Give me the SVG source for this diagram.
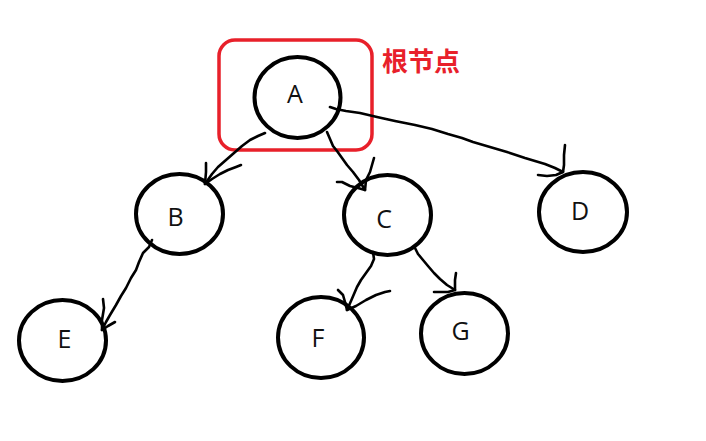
<svg xmlns="http://www.w3.org/2000/svg" width="706" height="441" viewBox="0 0 706 441">
<style>
.node ellipse{fill:none;stroke:#000;stroke-width:4}
.node text{font-family:"Open Sans","Noto Sans",sans-serif;font-size:25px;fill:#111;text-anchor:middle}
.conn path{fill:none;stroke:#000;stroke-width:2.6;stroke-linecap:round;stroke-linejoin:round}
.root rect{fill:none;stroke:#e8202a;stroke-width:3.5}
.root text{font-family:"Noto Sans CJK SC",sans-serif;font-weight:bold;font-size:26px;fill:#e8202a}
</style>
<rect width="706" height="441" fill="#fff"/>
<g id="root-label" class="root">
<rect x="219" y="40" width="153" height="110" rx="16"/>
<text x="382" y="71">根节点</text>
</g>
<g id="connectors" class="conn">
<path d="M265,133 L258,136 L250,140 L242,146 L234,153 L226,160 L218,167 L212,174 L205,184"/>
<path d="M206,163 L206,172 L205,184 L212,179 L220,174 L228,170 L236,167 L241,165"/>
<path d="M327,132 L330,139 L333,146 L337,151 L342,158 L347,165 L353,172 L359,180 L365,190"/>
<path d="M374,158 L372,165 L370,172 L366,180 L365,190 L358,188 L350,186 L342,182 L337,182"/>
<path d="M330,107 L336,109 L346,111 L360,113 L377,117 L395,121 L415,125 L432,129 L448,134 L462,138 L473,142 L490,147 L507,152 L525,158 L545,164 L555,168 L563,172"/>
<path d="M565,145 L564,155 L564,165 L563,172 L556,175 L547,176 L538,175"/>
<path d="M152,240 L149,247 L143,253 L139,262 L136,270 L131,278 L126,288 L121,296 L116,305 L110,315 L106,322 L102,330"/>
<path d="M103,299 L104,308 L102,320 L102,330 L108,326 L115,322"/>
<path d="M373,252 L374,259 L371,266 L366,273 L361,280 L357,287 L354,294 L351,301 L347,310"/>
<path d="M338,290 L343,295 L345,302 L347,310 L356,306 L366,300 L376,295 L385,292 L390,291"/>
<path d="M415,248 L418,254 L423,260 L428,266 L434,273 L440,279 L447,285 L455,290"/>
<path d="M456,273 L455,280 L455,290 L448,292 L440,292 L434,292"/>
</g>
<g id="node-A" class="node"><ellipse cx="297.5" cy="97.5" rx="43" ry="40.5"/><text x="295" y="103">A</text></g>
<g id="node-B" class="node"><ellipse cx="179.5" cy="214" rx="43.5" ry="40"/><text x="175.5" y="226">B</text></g>
<g id="node-C" class="node"><ellipse cx="387.5" cy="215" rx="43.5" ry="40"/><text x="384" y="228">C</text></g>
<g id="node-D" class="node"><ellipse cx="583" cy="212" rx="44" ry="40"/><text x="580" y="220">D</text></g>
<g id="node-E" class="node"><ellipse cx="62.5" cy="340.5" rx="43.5" ry="40.5"/><text x="64.5" y="348">E</text></g>
<g id="node-F" class="node"><ellipse cx="321" cy="337.5" rx="43" ry="40.5"/><text x="318" y="347">F</text></g>
<g id="node-G" class="node"><ellipse cx="464.5" cy="333.5" rx="43.5" ry="40.5"/><text x="460.5" y="340">G</text></g>
</svg>
